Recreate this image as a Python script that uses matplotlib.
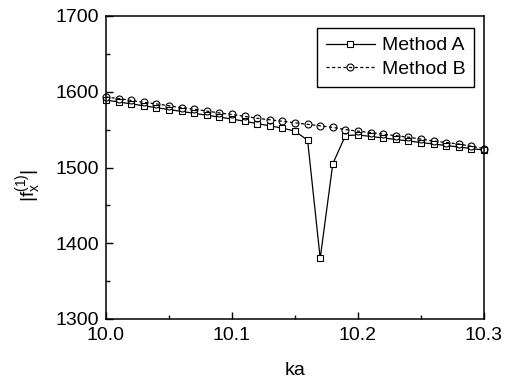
import matplotlib
matplotlib.use('Agg')
import matplotlib.pyplot as plt
from matplotlib.ticker import MultipleLocator

plt.rcParams['font.family'] = ['Liberation Sans', 'DejaVu Sans']
plt.rcParams['mathtext.fontset'] = 'custom'
plt.rcParams['mathtext.rm'] = 'Liberation Sans'
plt.rcParams['mathtext.it'] = 'Liberation Sans'

# ka values (step 0.01)
ka = [10.00, 10.01, 10.02, 10.03, 10.04, 10.05, 10.06, 10.07, 10.08, 10.09,
      10.10, 10.11, 10.12, 10.13, 10.14, 10.15, 10.16, 10.17, 10.18, 10.19,
      10.20, 10.21, 10.22, 10.23, 10.24, 10.25, 10.26, 10.27, 10.28, 10.29,
      10.30]

method_a = [1589, 1586.5, 1584, 1581.5, 1579, 1576.5, 1574, 1571.5, 1569, 1566.5,
            1564, 1561, 1558, 1555, 1552, 1548, 1536, 1380, 1505, 1542,
            1543, 1541, 1539, 1537, 1535, 1533, 1531, 1529, 1527, 1525,
            1523]

method_b = [1593, 1591, 1588.5, 1586, 1584, 1581.5, 1579, 1577, 1574.5, 1572,
            1570, 1567.5, 1565, 1563, 1561, 1559, 1557, 1555, 1553, 1550,
            1548, 1546, 1544, 1542, 1540, 1537.5, 1535, 1533, 1531, 1528,
            1525]

fig = plt.figure(figsize=(5.09, 3.87), dpi=100)
ax = fig.add_axes([106/509, 1 - 319/387, 378/509, 303/387])

ax.plot(ka, method_a, color='black', lw=0.9, marker='s', ms=5,
        mfc='white', mec='black', mew=0.8, label='Method A', clip_on=False)
ax.plot(ka, method_b, color='black', lw=0.9, ls=(0, (2.5, 2)), marker='o', ms=5,
        mfc='none', mec='black', mew=0.8, label='Method B', clip_on=False)

ax.set_xlim(10.0, 10.3)
ax.set_ylim(1300, 1700)
ax.xaxis.set_minor_locator(MultipleLocator(0.05))
ax.yaxis.set_major_locator(MultipleLocator(100))
ax.yaxis.set_minor_locator(MultipleLocator(50))
ax.set_xticks([10.0, 10.1, 10.2, 10.3])
ax.set_xticklabels(['10.0', '10.1', '10.2', '10.3'])
ax.tick_params(which='both', direction='in', top=False, right=False, labelsize=14, width=1)
ax.tick_params(which='major', length=5)
ax.tick_params(which='minor', length=3)
ax.tick_params(axis='x', pad=6)
ax.tick_params(axis='y', pad=5)
for s in ax.spines.values():
    s.set_linewidth(1.1)

ax.set_xlabel('ka', fontsize=14, labelpad=13)
ax.set_ylabel(r'|f$_x^{(1)}$|', fontsize=14)
ax.yaxis.set_label_coords(-0.165, 0.442)

leg = ax.legend(loc='upper right', bbox_to_anchor=(474/509, 1 - 28/387),
                bbox_transform=fig.transFigure, fontsize=14, fancybox=False,
                edgecolor='black', framealpha=1, handlelength=2.5,
                borderpad=0.45, labelspacing=0.3, handletextpad=0.36, borderaxespad=0)
leg.get_frame().set_linewidth(1.0)

fig.savefig('out.png', dpi=100)
